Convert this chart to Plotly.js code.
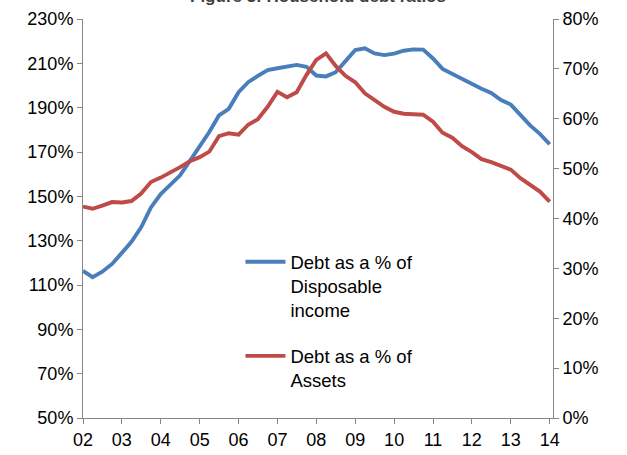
<!DOCTYPE html>
<html>
<head>
<meta charset="utf-8">
<script src="https://cdn.plot.ly/plotly-3.0.1.min.js"></script>
<style>html,body{margin:0;padding:0;background:#fff;}#chart{width:627px;height:455px;}</style>
</head>
<body>
<div id="chart"></div>
<script>
// Quarterly observations, 2002Q1 .. 2014Q1
const quarters = [
  "2002-01","2002-04","2002-07","2002-10",
  "2003-01","2003-04","2003-07","2003-10",
  "2004-01","2004-04","2004-07","2004-10",
  "2005-01","2005-04","2005-07","2005-10",
  "2006-01","2006-04","2006-07","2006-10",
  "2007-01","2007-04","2007-07","2007-10",
  "2008-01","2008-04","2008-07","2008-10",
  "2009-01","2009-04","2009-07","2009-10",
  "2010-01","2010-04","2010-07","2010-10",
  "2011-01","2011-04","2011-07","2011-10",
  "2012-01","2012-04","2012-07","2012-10",
  "2013-01","2013-04","2013-07","2013-10",
  "2014-01"
];

// Debt as a % of disposable income (left axis)
const debtToIncome = [
  116.4, 113.5, 116.0, 119.5,
  124.5, 129.5, 136.0, 145.0,
  151.0, 155.0, 159.5, 166.0,
  172.5, 179.0, 186.5, 189.5,
  197.0, 201.5, 204.3, 207.0,
  207.8, 208.7, 209.3, 208.4,
  204.5, 204.1, 206.0, 211.0,
  216.0, 216.8, 214.5, 213.7,
  214.4, 215.7, 216.3, 216.2,
  212.2, 207.5, 205.2, 203.0,
  200.4, 198.5, 196.6, 193.4,
  191.4, 187.0, 182.0, 178.2,
  173.5
];

// Debt as a % of assets (right axis)
const debtToAssets = [
  42.4, 41.95, 42.6, 43.3,
  43.2, 43.5, 45.0, 47.3,
  48.2, 49.2, 50.3, 51.5,
  52.3, 53.4, 56.5, 57.1,
  56.8, 58.8, 59.9, 62.4,
  65.4, 64.3, 65.3, 68.8,
  71.8, 73.1, 70.6, 68.6,
  67.3, 65.1, 63.7, 62.4,
  61.4, 61.0, 60.9, 60.8,
  59.4, 57.2, 56.2, 54.5,
  53.3, 51.9, 51.3, 50.6,
  49.8, 48.1, 46.7, 45.4,
  43.4
];

const seriesNames = [
  "Debt as a % of<br>Disposable<br>income",
  "Debt as a % of<br>Assets"
];
const titleText = "Figure 3: Household debt ratios";

const FONT = "Liberation Sans, Arial, sans-serif";
const AXIS = "#868686";

const traces = [
  {
    x: quarters, y: debtToIncome, name: seriesNames[0],
    type: "scatter", mode: "lines", yaxis: "y",
    legendgroup: "a",
    line: {color: "#4A7EBB", width: 3.9}
  },
  {
    x: quarters, y: debtToAssets, name: seriesNames[1],
    type: "scatter", mode: "lines", yaxis: "y2",
    legendgroup: "b",
    line: {color: "#BE4B48", width: 3.9}
  }
];

const layout = {
  width: 627, height: 455,
  margin: {l: 83, r: 74, t: 19, b: 37, pad: 0},
  paper_bgcolor: "#ffffff", plot_bgcolor: "#ffffff",
  font: {family: FONT, size: 18, color: "#000000"},
  showlegend: true,
  legend: {
    x: 0.335, y: 0.438, xanchor: "left", yanchor: "top",
    bgcolor: "rgba(0,0,0,0)", borderwidth: 0,
    valign: "top", tracegroupgap: 19, itemwidth: 40,
    font: {family: FONT, size: 18.5, color: "#000000"}
  },
  xaxis: {
    type: "date",
    range: ["2002-01-01", "2014-02-01"],
    tick0: "2002-01-01", dtick: "M12", tickformat: "%y",
    showgrid: false, zeroline: false,
    showline: true, linecolor: AXIS, linewidth: 1,
    ticks: "outside", ticklen: 5, tickcolor: AXIS, tickwidth: 1,
    tickfont: {family: FONT, size: 18, color: "#000"},
    fixedrange: true
  },
  yaxis: {
    range: [50, 230], dtick: 20, tick0: 50, ticksuffix: "%",
    showgrid: false, zeroline: false,
    showline: true, linecolor: AXIS, linewidth: 1,
    ticks: "outside", ticklen: 5, tickcolor: AXIS, tickwidth: 1,
    tickfont: {family: FONT, size: 18, color: "#000"},
    fixedrange: true
  },
  yaxis2: {
    range: [0, 80], dtick: 10, tick0: 0, ticksuffix: "%",
    overlaying: "y", side: "right",
    showgrid: false, zeroline: false,
    showline: true, linecolor: AXIS, linewidth: 1,
    ticks: "outside", ticklen: 5, tickcolor: AXIS, tickwidth: 1,
    tickfont: {family: FONT, size: 18, color: "#000"},
    fixedrange: true
  },
  annotations: [
    {
      text: "<b>" + titleText + "</b>",
      xref: "paper", yref: "paper", x: 0.5, y: 1.027,
      xanchor: "center", yanchor: "bottom", showarrow: false,
      font: {family: FONT, size: 17, color: "#404040"}
    }
  ]
};

Plotly.newPlot("chart", traces, layout, {displayModeBar: false, staticPlot: true});
</script>
</body>
</html>
